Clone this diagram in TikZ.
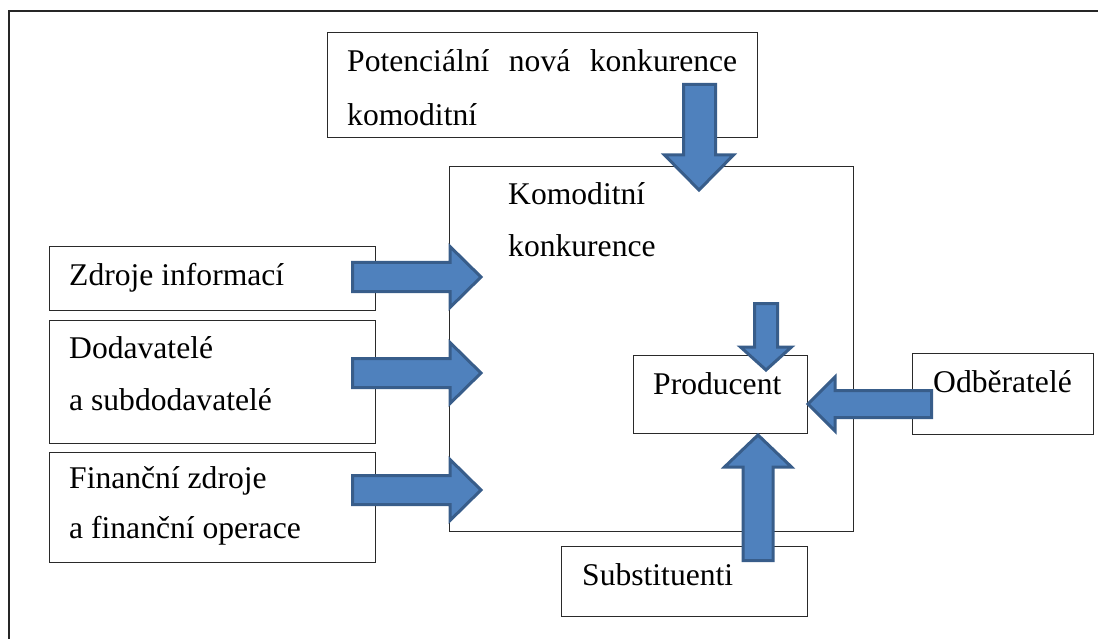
\documentclass[tikz,border=0pt]{standalone}
\usepackage{fontspec}
\setmainfont{Liberation Serif}
\definecolor{arrowfill}{HTML}{4F81BD}
\definecolor{arrowline}{HTML}{385D8A}
\definecolor{boxline}{HTML}{2A2A2A}
\tikzset{
  box/.style={draw=boxline, line width=1.3pt, fill=white, inner sep=0pt, anchor=north west},
  label/.style={anchor=base west, inner sep=0pt, font=\fontsize{31.6}{31.6}\selectfont, text=black},
  blockarrow/.style={fill=arrowfill, draw=arrowline, line width=3pt, line join=miter},
  frame/.style={draw=black!85, line width=2pt}
}
% box given by its corners in pixel units
\newcommand{\pxbox}[5]{%
  \node[box, minimum width=#4-#2, minimum height=#5-#3] (#1) at (#2,#3) {};}
\begin{document}
\begin{tikzpicture}[x=1pt, y=-1pt]
  \useasboundingbox (0,0) rectangle (1098,639);
  % outer frame (left and top edges visible)
  \draw[frame] (9,639) -- (9,11) -- (1098,11);

  % boxes
  \pxbox{komodity}{449}{166}{853}{531}
  \pxbox{nova}{327}{32}{757}{137}
  \pxbox{zdroje}{49}{246}{375}{310}
  \pxbox{dodav}{49}{320}{375}{443}
  \pxbox{financ}{49}{452}{375}{562}
  \pxbox{prod}{633}{355}{807}{433}
  \pxbox{odber}{912}{353}{1093}{434}
  \pxbox{subst}{561}{546}{807}{616}

  % block arrows
  % from the new competition down into the commodity competition
  \draw[blockarrow] (683.5,84.5) -- (715.5,84.5) -- (715.5,155) -- (733.5,155)
    -- (699,190) -- (664.5,155) -- (683.5,155) -- cycle;
  % three inputs from the left
  \foreach \cy in {277,373,490}{
    \draw[blockarrow] (352.5,\cy-14.5) -- (450,\cy-14.5) -- (450,\cy-30.5)
      -- (481,\cy) -- (450,\cy+30.5) -- (450,\cy+14.5) -- (352.5,\cy+14.5) -- cycle;
  }
  % small arrow down onto the producer
  \draw[blockarrow] (754.5,303.5) -- (777.5,303.5) -- (777.5,347) -- (791.5,347)
    -- (766,370) -- (740.5,347) -- (754.5,347) -- cycle;
  % from the customers to the producer
  \draw[blockarrow] (931.5,390.5) -- (835,390.5) -- (835,377) -- (808,404)
    -- (835,431) -- (835,417.5) -- (931.5,417.5) -- cycle;
  % from the substitutes up to the producer
  \draw[blockarrow] (743,560.5) -- (743,467) -- (724.5,467) -- (758,435)
    -- (791.5,467) -- (773,467) -- (773,560.5) -- cycle;

  % texts
  \node[label] (tnova1) at (347,72) {\hbox to 390pt{Potenciální\hfil nová\hfil konkurence}};
  \node[label] (tnova2) at (347,126) {komoditní};
  \node[label] (tkom1) at (508,205) {Komoditní};
  \node[label] (tkom2) at (508,257) {konkurence};
  \node[label] (tzdroje) at (69,285) {Zdroje informací};
  \node[label] (tdodav1) at (69,358) {Dodavatelé};
  \node[label] (tdodav2) at (69,410) {a subdodavatelé};
  \node[label] (tfin1) at (69,488) {Finanční zdroje};
  \node[label] (tfin2) at (69,538) {a finanční operace};
  \node[label] (tprod) at (653,394) {Producent};
  \node[label] (todber) at (933,392) {Odběratelé};
  \node[label] (tsubst) at (582,585) {Substituenti};
\end{tikzpicture}
\end{document}
